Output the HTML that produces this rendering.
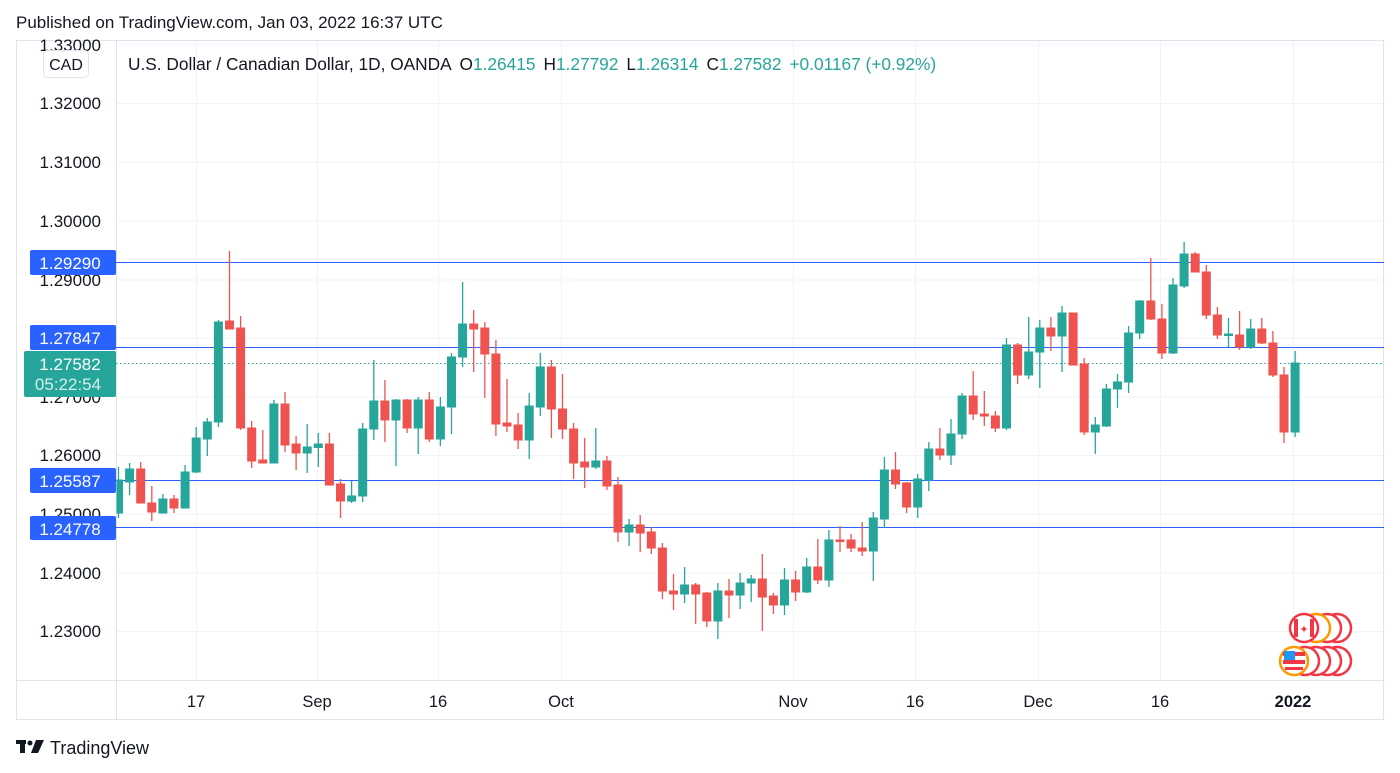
<!DOCTYPE html>
<html><head><meta charset="utf-8"><style>
html,body{margin:0;padding:0;background:#fff;}
svg{display:block;font-family:"Liberation Sans","DejaVu Sans",sans-serif;}
.g{fill:#26a69a;stroke:#26a69a;}
.r{fill:#ef5350;stroke:#ef5350;}
.w{stroke-width:1.3;fill:none;}
</style></head><body>
<svg width="1400" height="773" viewBox="0 0 1400 773" xmlns="http://www.w3.org/2000/svg">
<defs><clipPath id="pc"><rect x="116.5" y="40" width="1267" height="640"/></clipPath></defs>
<text x="16" y="28" font-size="17" fill="#131722">Published on TradingView.com, Jan 03, 2022 16:37 UTC</text>
<rect x="16.5" y="40.5" width="1367" height="679" fill="#fff" stroke="#e0e3eb"/>
<line x1="116.5" y1="40" x2="116.5" y2="720" stroke="#e0e3eb"/>
<line x1="16" y1="680.5" x2="1384" y2="680.5" stroke="#e0e3eb"/>
<g stroke="#f0f3fa" stroke-width="1">
<line x1="117" x2="1383" y1="45" y2="45"/><line x1="117" x2="1383" y1="103.5" y2="103.5"/>
<line x1="117" x2="1383" y1="162" y2="162"/><line x1="117" x2="1383" y1="221" y2="221"/>
<line x1="117" x2="1383" y1="280" y2="280"/><line x1="117" x2="1383" y1="338.5" y2="338.5"/>
<line x1="117" x2="1383" y1="397" y2="397"/><line x1="117" x2="1383" y1="455.5" y2="455.5"/>
<line x1="117" x2="1383" y1="514" y2="514"/><line x1="117" x2="1383" y1="573" y2="573"/>
<line x1="117" x2="1383" y1="631.5" y2="631.5"/>
<line y1="41" y2="680" x1="196.5" x2="196.5"/><line y1="41" y2="680" x1="317.5" x2="317.5"/>
<line y1="41" y2="680" x1="438.5" x2="438.5"/><line y1="41" y2="680" x1="561.5" x2="561.5"/>
<line y1="41" y2="680" x1="793.5" x2="793.5"/><line y1="41" y2="680" x1="915.5" x2="915.5"/>
<line y1="41" y2="680" x1="1038.5" x2="1038.5"/><line y1="41" y2="680" x1="1160.5" x2="1160.5"/>
<line y1="41" y2="680" x1="1293.5" x2="1293.5"/>
</g>
<g font-size="17" fill="#131722" text-anchor="end">
<text x="101" y="51">1.33000</text><text x="101" y="109">1.32000</text>
<text x="101" y="168">1.31000</text><text x="101" y="227">1.30000</text>
<text x="101" y="286">1.29000</text><text x="101" y="403">1.27000</text>
<text x="101" y="461">1.26000</text><text x="101" y="520">1.25000</text>
<text x="101" y="579">1.24000</text><text x="101" y="637">1.23000</text>
</g>
<rect x="43.5" y="50.5" width="45" height="27" rx="4" fill="#fff" stroke="#e0e3eb"/>
<text x="66" y="70" font-size="16" fill="#131722" text-anchor="middle">CAD</text>
<text x="128" y="70" font-size="17.3" fill="#131722">U.S. Dollar / Canadian Dollar, 1D, OANDA <tspan dx="4">O</tspan><tspan fill="#26a69a">1.26415</tspan><tspan dx="8">H</tspan><tspan fill="#26a69a">1.27792</tspan><tspan dx="8">L</tspan><tspan fill="#26a69a">1.26314</tspan><tspan dx="8">C</tspan><tspan fill="#26a69a">1.27582</tspan><tspan dx="8" fill="#26a69a">+0.01167 (+0.92%)</tspan></text>
<g stroke="#2962ff" stroke-width="1">
<line x1="116" x2="1384" y1="262.5" y2="262.5"/><line x1="116" x2="1384" y1="347.5" y2="347.5"/>
<line x1="116" x2="1384" y1="480.5" y2="480.5"/><line x1="116" x2="1384" y1="527.5" y2="527.5"/>
</g>
<line x1="116" x2="1384" y1="363.5" y2="363.5" stroke="#26a69a" stroke-dasharray="1.5,2.5"/>
<g clip-path="url(#pc)">
<g class="g">
<path class="w" d="M118.5 467V518M129.6 463V495M162.9 494V513M185.1 465V508M196.2 427V473M207.3 418V456M218.4 320V427M273.9 400V463M307.2 424V473M318.3 433V467M351.6 481V503M362.7 423V502M373.8 360V440M396 399V466M418.2 397V454M440.4 397V446M451.5 353V434M462.6 282V367M529.2 393V459M540.3 353V416M595.8 428V469M629.1 519V546M684.6 567V603M717.9 583V639M740.1 573V609M751.2 575V602M784.5 568V615M806.7 558V593M828.9 530V587M873.3 512V581M884.4 457V528M917.7 474V518M928.8 442V491M951 419V465M962.1 393V439M1006.5 338V430M1028.7 317V379M1039.8 320V388M1062 306V372M1095.3 417V454M1106.4 384V427M1117.5 374V408M1128.6 326V393M1139.7 300V339M1173 278V354M1184.1 242V288M1228.5 318V347M1250.7 319V349M1295.1 351V437"/>
<rect x="114.5" y="480" width="8" height="33"/><rect x="125.6" y="469" width="8" height="13"/>
<rect x="158.9" y="499" width="8" height="14"/><rect x="181.1" y="472" width="8" height="36"/>
<rect x="192.2" y="438" width="8" height="34"/><rect x="203.3" y="422" width="8" height="17"/>
<rect x="214.4" y="322" width="8" height="100"/><rect x="269.9" y="404" width="8" height="59"/>
<rect x="303.2" y="447" width="8" height="6"/><rect x="314.3" y="444" width="8" height="3.5"/>
<rect x="347.6" y="496" width="8" height="5"/><rect x="358.7" y="429" width="8" height="67"/>
<rect x="369.8" y="401" width="8" height="28"/><rect x="392" y="400" width="8" height="20"/>
<rect x="414.2" y="400" width="8" height="28"/><rect x="436.4" y="407" width="8" height="32"/>
<rect x="447.5" y="357" width="8" height="50"/><rect x="458.6" y="324" width="8" height="33"/>
<rect x="525.2" y="406" width="8" height="34"/><rect x="536.3" y="367" width="8" height="40"/>
<rect x="591.8" y="461" width="8" height="6"/><rect x="625.1" y="525" width="8" height="7"/>
<rect x="680.6" y="585" width="8" height="9"/><rect x="713.9" y="591" width="8" height="30"/>
<rect x="736.1" y="583" width="8" height="12"/><rect x="747.2" y="579" width="8" height="4"/>
<rect x="780.5" y="580" width="8" height="25"/><rect x="802.7" y="567" width="8" height="25"/>
<rect x="824.9" y="540" width="8" height="40"/><rect x="869.3" y="518" width="8" height="33"/>
<rect x="880.4" y="470" width="8" height="49"/><rect x="913.7" y="479" width="8" height="28"/>
<rect x="924.8" y="449" width="8" height="31"/><rect x="947" y="434" width="8" height="21"/>
<rect x="958.1" y="396" width="8" height="38"/><rect x="1002.5" y="345" width="8" height="83"/>
<rect x="1024.7" y="352" width="8" height="23"/><rect x="1035.8" y="328" width="8" height="24"/>
<rect x="1058" y="313" width="8" height="23"/><rect x="1091.3" y="425" width="8" height="7"/>
<rect x="1102.4" y="389" width="8" height="37"/><rect x="1113.5" y="382" width="8" height="7"/>
<rect x="1124.6" y="333" width="8" height="49"/><rect x="1135.7" y="301" width="8" height="32"/>
<rect x="1169" y="285" width="8" height="68"/><rect x="1180.1" y="254" width="8" height="32"/>
<rect x="1224.5" y="334" width="8" height="1.5"/><rect x="1246.7" y="329" width="8" height="18"/>
<rect x="1291.1" y="363" width="8" height="69"/>
</g>
<g class="r">
<path class="w" d="M140.7 462V503M151.8 486V521M174 495V513M229.5 251V329M240.6 316V430M251.7 421V468M262.8 430V463M285 392V452M296.1 436V470M329.4 433V485M340.5 479V518M384.9 380V442M407.1 399V433M429.3 392V442M473.7 310V372M484.8 322V398M495.9 340V436M507 379V432M518.1 413V449M551.4 360V438M562.5 374V439M573.6 423V479M584.7 438V488M606.9 456V490M618 477V542M640.2 515V552M651.3 527V554M662.4 543V599M673.5 574V610M695.7 583V624M706.8 592V627M729 579V618M762.3 554V631M773.4 593V614M795.6 571V601M817.8 539V584M840 526V552M851.1 534V552M862.2 522V556M895.5 452V489M906.6 482V513M939.9 428V460M973.2 371V420M984.3 391V426M995.4 411V432M1017.6 343V384M1050.9 317V351M1073.1 313V365M1084.2 358V435M1150.8 258V320M1161.9 304V359M1195.2 252V272M1206.3 265V319M1217.4 307V339M1239.6 311V350M1261.8 318V344M1272.9 331V377M1284 367V443"/>
<rect x="136.7" y="469" width="8" height="34"/><rect x="147.8" y="503" width="8" height="9"/>
<rect x="170" y="499" width="8" height="9"/><rect x="225.5" y="321" width="8" height="8"/>
<rect x="236.6" y="328" width="8" height="100"/><rect x="247.7" y="428" width="8" height="33"/>
<rect x="258.8" y="460" width="8" height="3"/><rect x="281" y="404" width="8" height="41"/>
<rect x="292.1" y="444" width="8" height="9"/><rect x="325.4" y="444" width="8" height="41"/>
<rect x="336.5" y="484" width="8" height="17"/><rect x="380.9" y="401" width="8" height="19"/>
<rect x="403.1" y="400" width="8" height="28"/><rect x="425.3" y="400" width="8" height="39"/>
<rect x="469.7" y="324" width="8" height="5"/><rect x="480.8" y="328" width="8" height="26"/>
<rect x="491.9" y="354" width="8" height="70"/><rect x="503" y="423" width="8" height="3"/>
<rect x="514.1" y="425" width="8" height="15"/><rect x="547.4" y="367" width="8" height="42"/>
<rect x="558.5" y="409" width="8" height="20"/><rect x="569.6" y="429" width="8" height="34"/>
<rect x="580.7" y="462" width="8" height="5"/><rect x="602.9" y="461" width="8" height="25"/>
<rect x="614" y="485" width="8" height="47"/><rect x="636.2" y="525" width="8" height="8"/>
<rect x="647.3" y="532" width="8" height="16"/><rect x="658.4" y="548" width="8" height="43"/>
<rect x="669.5" y="591" width="8" height="3"/><rect x="691.7" y="585" width="8" height="9"/>
<rect x="702.8" y="593" width="8" height="28"/><rect x="725" y="591" width="8" height="4"/>
<rect x="758.3" y="579" width="8" height="18"/><rect x="769.4" y="596" width="8" height="9"/>
<rect x="791.6" y="580" width="8" height="12"/><rect x="813.8" y="567" width="8" height="13"/>
<rect x="836" y="540" width="8" height="1.5"/><rect x="847.1" y="540" width="8" height="8"/>
<rect x="858.2" y="548" width="8" height="3"/><rect x="891.5" y="470" width="8" height="14"/>
<rect x="902.6" y="483" width="8" height="24"/><rect x="935.9" y="449" width="8" height="6"/>
<rect x="969.2" y="396" width="8" height="18"/><rect x="980.3" y="414" width="8" height="2"/>
<rect x="991.4" y="416" width="8" height="12"/><rect x="1013.6" y="345" width="8" height="30"/>
<rect x="1046.9" y="328" width="8" height="8"/><rect x="1069.1" y="313" width="8" height="52"/>
<rect x="1080.2" y="364" width="8" height="68"/><rect x="1146.8" y="301" width="8" height="18"/>
<rect x="1157.9" y="319" width="8" height="34"/><rect x="1191.2" y="254" width="8" height="18"/>
<rect x="1202.3" y="272" width="8" height="43"/><rect x="1213.4" y="315" width="8" height="20"/>
<rect x="1235.6" y="335" width="8" height="12"/><rect x="1257.8" y="329" width="8" height="14"/>
<rect x="1268.9" y="343" width="8" height="32"/><rect x="1280" y="375" width="8" height="57"/>
</g>
</g>
<g font-size="17" fill="#fff" text-anchor="middle">
<rect x="30" y="250" width="86" height="25" rx="2" fill="#2962ff"/><text x="70" y="269">1.29290</text>
<rect x="30" y="325" width="86" height="25" rx="2" fill="#2962ff"/><text x="70" y="344">1.27847</text>
<rect x="30" y="468" width="86" height="25" rx="2" fill="#2962ff"/><text x="70" y="487">1.25587</text>
<rect x="30" y="516" width="86" height="24" rx="2" fill="#2962ff"/><text x="70" y="535">1.24778</text>
<rect x="24" y="351" width="92" height="46" rx="2" fill="#26a69a"/>
<text x="70" y="370">1.27582</text><text x="68" y="390" fill="#d4efec">05:22:54</text>
</g>
<g stroke-width="2.5" fill="#fff">
<circle cx="1337" cy="628" r="14" stroke="#f23645"/><circle cx="1327" cy="628" r="14" stroke="#f23645"/>
<circle cx="1316" cy="628" r="14" stroke="#ff9800"/><circle cx="1304" cy="628" r="14" stroke="#f23645"/>
<circle cx="1337" cy="661" r="14" stroke="#f23645"/><circle cx="1327" cy="661" r="14" stroke="#f23645"/>
<circle cx="1316" cy="661" r="14" stroke="#f23645"/><circle cx="1305" cy="661" r="14" stroke="#f23645"/>
<circle cx="1294" cy="661" r="14" stroke="#ff9800"/>
</g>
<rect x="1294" y="619" width="4" height="18" fill="#f23645"/><rect x="1310" y="619" width="4" height="18" fill="#f23645"/>
<text x="1304" y="633" font-size="11" fill="#f23645" text-anchor="middle">✦</text>
<rect x="1283" y="652" width="22" height="4" fill="#f23645"/><rect x="1283" y="660" width="22" height="4" fill="#f23645"/><rect x="1285" y="667" width="18" height="3" fill="#f23645"/>
<rect x="1284" y="651" width="11" height="9" fill="#2196f3"/>
<g font-size="16.5" fill="#131722" text-anchor="middle">
<text x="196" y="707">17</text><text x="317" y="707">Sep</text><text x="438" y="707">16</text>
<text x="561" y="707">Oct</text><text x="793" y="707">Nov</text><text x="915" y="707">16</text>
<text x="1038" y="707">Dec</text><text x="1160" y="707">16</text><text x="1293" y="707" font-weight="bold">2022</text>
</g>
<g fill="#131722">
<rect x="16" y="740" width="10" height="4"/><rect x="20" y="740" width="5" height="13"/>
<circle cx="30" cy="743" r="2.5"/><path d="M36 740H44L38 753H31Z"/>
</g>
<text x="50" y="754" font-size="18" fill="#131722">TradingView</text>
</svg>
</body></html>
